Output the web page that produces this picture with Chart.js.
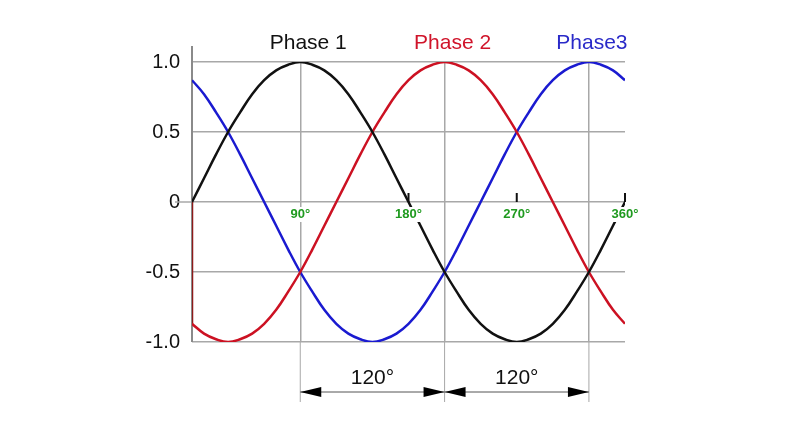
<!DOCTYPE html>
<html>
<head>
<meta charset="utf-8">
<script src="https://cdn.jsdelivr.net/npm/chart.js@4/dist/chart.umd.min.js"></script>
<style>
  body { margin: 0; background: #fff; }
  #wrap { width: 800px; height: 426px; }
</style>
</head>
<body>
<div id="wrap"><canvas id="phaseChart" width="800" height="426"></canvas></div>
<script>
// values, every 10 degrees
const angles = [0,10,20,30,40,50,60,70,80,90,100,110,120,130,140,150,160,170,180,
  190,200,210,220,230,240,250,260,270,280,290,300,310,320,330,340,350,360];
const phase1 = [0,.17,.34,.5,.64,.77,.87,.94,.98,1,.98,.94,.87,.77,.64,.5,.34,.17,0,
  -.17,-.34,-.5,-.64,-.77,-.87,-.94,-.98,-1,-.98,-.94,-.87,-.77,-.64,-.5,-.34,-.17,0];
const phase2 = [-.87,-.94,-.98,-1,-.98,-.94,-.87,-.77,-.64,-.5,-.34,-.17,0,
  .17,.34,.5,.64,.77,.87,.94,.98,1,.98,.94,.87,.77,.64,.5,.34,.17,0,
  -.17,-.34,-.5,-.64,-.77,-.87];
const phase3 = [.87,.77,.64,.5,.34,.17,0,-.17,-.34,-.5,-.64,-.77,-.87,-.94,-.98,-1,
  -.98,-.94,-.87,-.77,-.64,-.5,-.34,-.17,0,.17,.34,.5,.64,.77,.87,.94,.98,1,.98,.94,.87];
// the short red stroke down the left edge at 0 degrees
const phase2StartAngles = [0, 0];
const phase2StartValues = [0, -.87];

const seriesNames = ['Phase 1', 'Phase 2', 'Phase3'];
const yTicks = [1, 0.5, 0, -0.5, -1];
const yTickLabels = ['1.0', '0.5', '0', '-0.5', '-1.0'];
const degreeMarks = [90, 180, 270, 360];
const degreeLabels = ['90°', '180°', '270°', '360°'];
const peakAngles = [90, 210, 330];
const spanLabels = ['120°', '120°'];

const colors = ['#111111', '#cc1122', '#1a1ad0'];
const titleColors = ['#111111', '#d0142a', '#2a2ac8'];
const gridGray = '#a8a8a8';

Chart.defaults.font.family = "'Liberation Sans', Arial, sans-serif";

const toPoints = (xs, ys) => xs.map((a, i) => ({ x: a, y: ys[i] }));

const decor = {
  id: 'decor',
  beforeDatasetsDraw(chart) {
    const { ctx, chartArea: ca, scales: { x, y } } = chart;
    const y0 = y.getPixelForValue(0);
    const x0 = x.getPixelForValue(0);
    ctx.save();
    // zero line sticks out left of the axis
    ctx.strokeStyle = gridGray;
    ctx.lineWidth = 1.5;
    ctx.beginPath();
    ctx.moveTo(x0 - 17, y0);
    ctx.lineTo(x0, y0);
    ctx.stroke();
    // left axis, a bit taller than the grid
    ctx.strokeStyle = '#8a8a8a';
    ctx.lineWidth = 2;
    ctx.beginPath();
    ctx.moveTo(x0, ca.top - 16);
    ctx.lineTo(x0, ca.bottom);
    ctx.stroke();
    // dimension extension lines below the plot
    ctx.strokeStyle = gridGray;
    ctx.lineWidth = 1;
    peakAngles.forEach(a => {
      const px = x.getPixelForValue(a);
      ctx.beginPath();
      ctx.moveTo(px, ca.bottom);
      ctx.lineTo(px, ca.bottom + 60);
      ctx.stroke();
    });
    ctx.restore();
  },
  afterDatasetsDraw(chart) {
    const { ctx, scales: { x, y } } = chart;
    const y0 = y.getPixelForValue(0);
    ctx.save();
    // little tick marks on the zero line
    ctx.strokeStyle = '#111';
    ctx.lineWidth = 2;
    degreeMarks.forEach(a => {
      if (peakAngles.includes(a)) return;
      const px = x.getPixelForValue(a);
      ctx.beginPath();
      ctx.moveTo(px, y0 - 9);
      ctx.lineTo(px, y0);
      ctx.stroke();
    });
    // green degree labels on white patches
    ctx.font = 'bold 13px "Liberation Sans", Arial, sans-serif';
    ctx.textAlign = 'center';
    ctx.textBaseline = 'middle';
    degreeMarks.forEach((a, i) => {
      const px = x.getPixelForValue(a);
      const w = ctx.measureText(degreeLabels[i]).width;
      ctx.fillStyle = '#fff';
      ctx.fillRect(px - w / 2 - 2, y0 + 5, w + 4, 15);
      ctx.fillStyle = '#1f9a1f';
      ctx.fillText(degreeLabels[i], px, y0 + 12);
    });
    ctx.restore();
  },
  afterDraw(chart) {
    const { ctx, chartArea: ca, scales: { x } } = chart;
    ctx.save();
    // series titles over the peaks
    ctx.font = '21px "Liberation Sans", Arial, sans-serif';
    ctx.textAlign = 'center';
    ctx.textBaseline = 'middle';
    const shifts = [8, 8, 3];
    seriesNames.forEach((name, i) => {
      ctx.fillStyle = titleColors[i];
      ctx.fillText(name, x.getPixelForValue(peakAngles[i]) + shifts[i], ca.top - 19);
    });
    // 120 degree dimension arrows
    const ay = ca.bottom + 50;
    for (let i = 0; i < peakAngles.length - 1; i++) {
      const p1 = x.getPixelForValue(peakAngles[i]);
      const p2 = x.getPixelForValue(peakAngles[i + 1]);
      ctx.strokeStyle = '#555';
      ctx.lineWidth = 1;
      ctx.beginPath();
      ctx.moveTo(p1, ay);
      ctx.lineTo(p2, ay);
      ctx.stroke();
      ctx.fillStyle = '#000';
      ctx.beginPath();
      ctx.moveTo(p1, ay);
      ctx.lineTo(p1 + 21, ay - 5);
      ctx.lineTo(p1 + 21, ay + 5);
      ctx.closePath();
      ctx.fill();
      ctx.beginPath();
      ctx.moveTo(p2, ay);
      ctx.lineTo(p2 - 21, ay - 5);
      ctx.lineTo(p2 - 21, ay + 5);
      ctx.closePath();
      ctx.fill();
      ctx.fillStyle = '#111';
      ctx.fillText(spanLabels[i], (p1 + p2) / 2, ay - 14);
    }
    ctx.restore();
  }
};

const lineStyle = c => ({
  borderColor: c,
  backgroundColor: c,
  borderWidth: 2.5,
  pointRadius: 0,
  tension: 0.4,
  fill: false
});

new Chart(document.getElementById('phaseChart'), {
  type: 'line',
  data: {
    datasets: [
      { label: seriesNames[0], data: toPoints(angles, phase1), ...lineStyle(colors[0]) },
      { label: seriesNames[1], data: toPoints(angles, phase2), ...lineStyle(colors[1]) },
      { label: seriesNames[2], data: toPoints(angles, phase3), ...lineStyle(colors[2]) },
      { label: 'start', data: toPoints(phase2StartAngles, phase2StartValues), ...lineStyle('#8e1a1a'), tension: 0 }
    ]
  },
  options: {
    responsive: false,
    animation: false,
    layout: { padding: { left: 132, right: 175, top: 62, bottom: 84 } },
    plugins: { legend: { display: false }, tooltip: { enabled: false } },
    scales: {
      x: {
        type: 'linear',
        min: 0,
        max: 360,
        afterBuildTicks: s => { s.ticks = peakAngles.map(v => ({ value: v })); },
        afterFit: s => { s.height = 0; },
        ticks: { display: false },
        border: { display: false },
        grid: { color: gridGray, lineWidth: 1.5, drawTicks: false }
      },
      y: {
        min: -1,
        max: 1,
        afterBuildTicks: s => { s.ticks = yTicks.map(v => ({ value: v })); },
        afterFit: s => { s.width = 60; },
        border: { display: false },
        grid: { color: gridGray, lineWidth: 1.5, drawTicks: false },
        ticks: {
          padding: 12,
          color: '#111',
          font: { size: 20 },
          callback: v => yTickLabels[yTicks.indexOf(v)]
        }
      }
    }
  },
  plugins: [decor]
});
</script>
</body>
</html>
